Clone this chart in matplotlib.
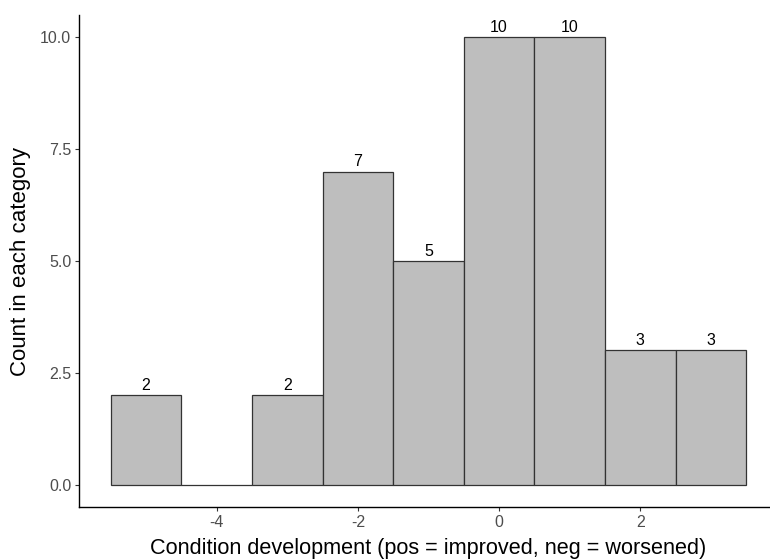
import matplotlib
matplotlib.use("Agg")
import matplotlib.pyplot as plt

bin_centers = [-5, -4, -3, -2, -1, 0, 1, 2, 3]
counts = [2, 0, 2, 7, 5, 10, 10, 3, 3]
x_ticks = [-4, -2, 0, 2]
y_ticks = [0.0, 2.5, 5.0, 7.5, 10.0]
x_label = "Condition development (pos = improved, neg = worsened)"
y_label = "Count in each category"

plt.rcParams['font.family'] = ['Liberation Sans', 'DejaVu Sans']

fig = plt.figure(figsize=(7.7, 5.6), dpi=100)
ax = fig.add_axes([79/770, (560-507)/560, (778-79)/770, (507-15)/560])

ax.bar(bin_centers, counts, width=1.0, color="#bebebe", edgecolor="#333333",
       linewidth=0.9, align="center", zorder=2)
for xc, c in zip(bin_centers, counts):
    if c > 0:
        ax.annotate(str(c), (xc, c), xytext=(0, 1.5), textcoords="offset points",
                    ha="center", va="bottom", fontsize=11.5, color="black")

ax.set_xlim(-5.95, 3.95)
ax.set_ylim(-0.5, 10.5)
ax.set_xticks(x_ticks)
ax.set_xticklabels([str(t) for t in x_ticks])
ax.set_yticks(y_ticks)
ax.set_yticklabels([f"{t:.1f}" for t in y_ticks])
ax.tick_params(axis="both", colors="#333333", labelcolor="#4d4d4d", labelsize=11.5,
               length=3, width=0.8, pad=2.5)
for s in ["top", "right"]:
    ax.spines[s].set_visible(False)
for s in ["left", "bottom"]:
    ax.spines[s].set_color("black")
    ax.spines[s].set_linewidth(1.0)
ax.set_xlabel(x_label, fontsize=15.6, labelpad=6)
ax.set_ylabel(y_label, fontsize=16, labelpad=7)

fig.savefig("out.png", dpi=100)
